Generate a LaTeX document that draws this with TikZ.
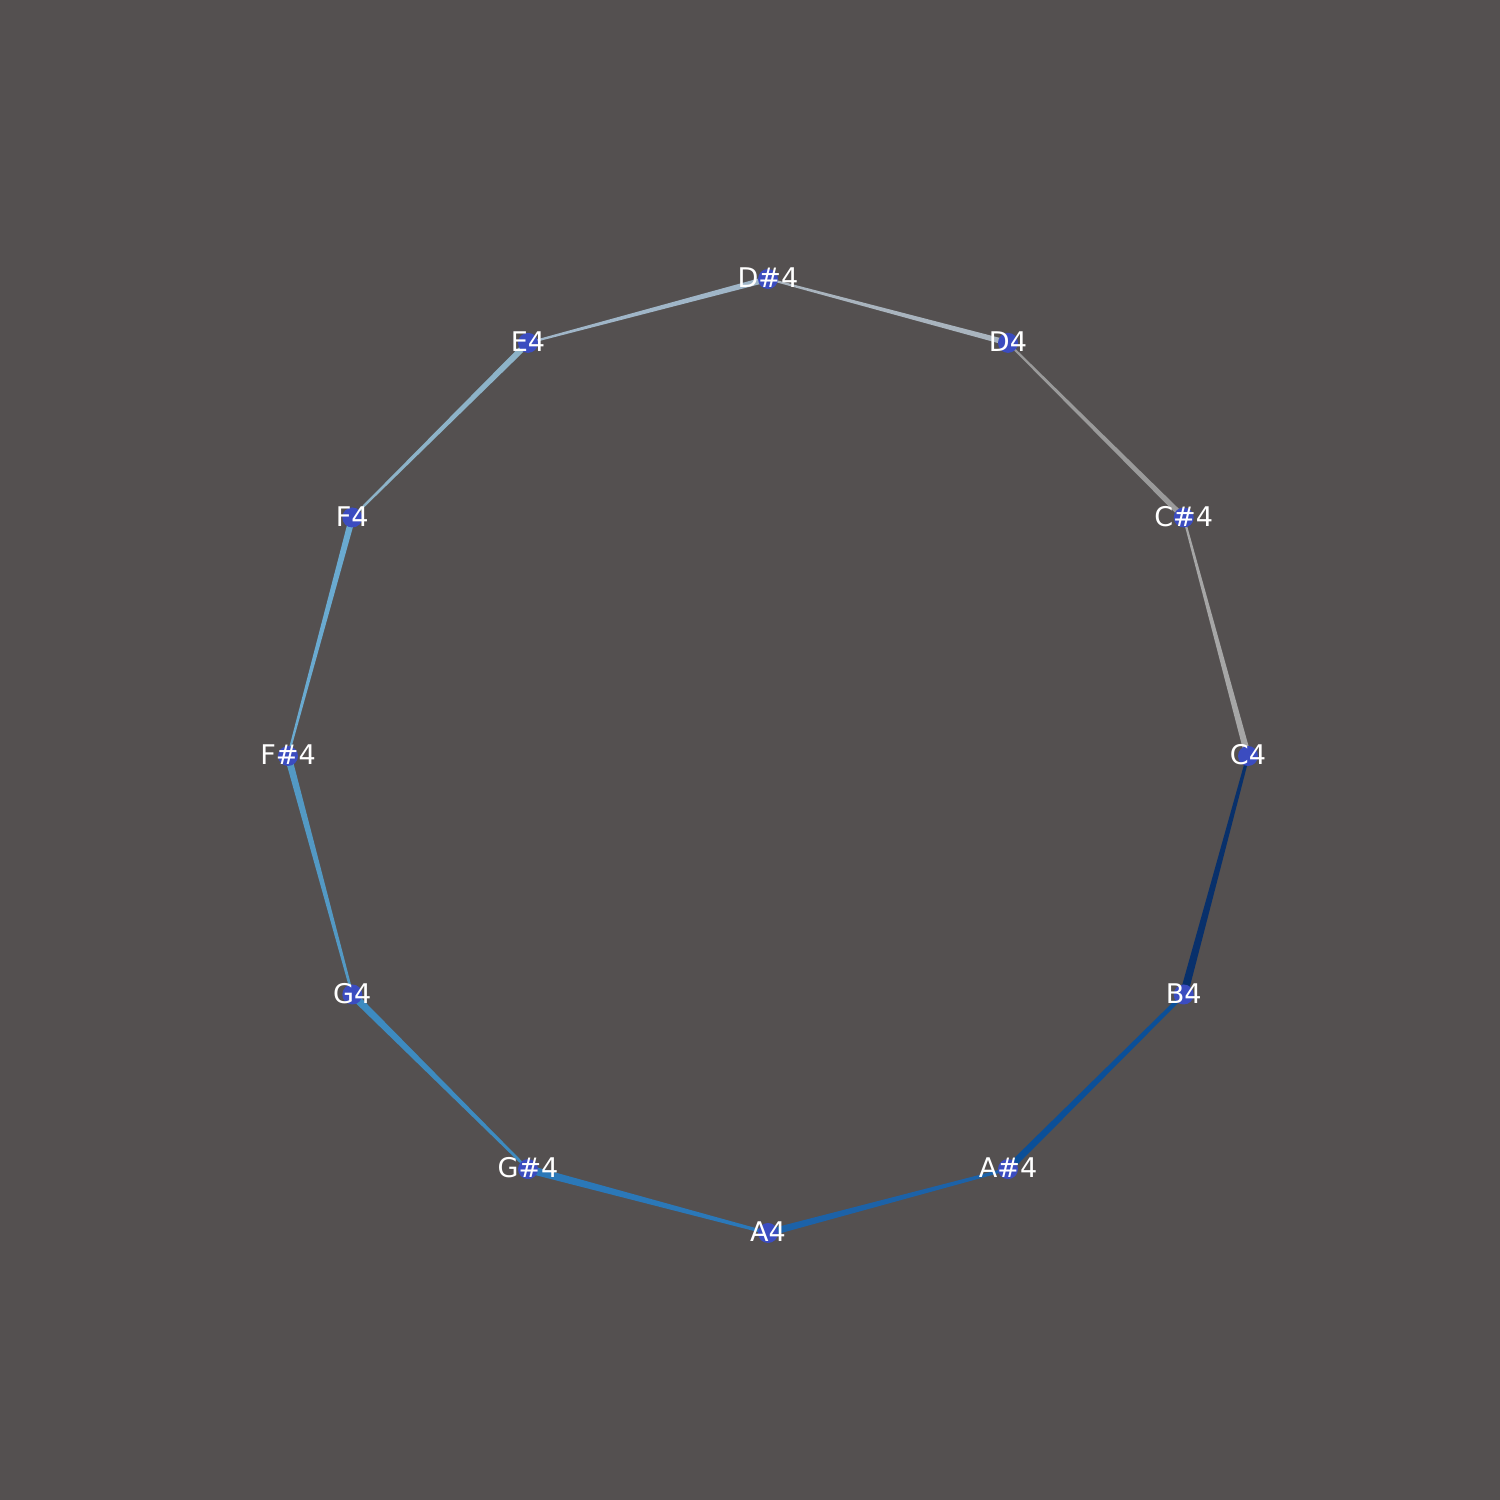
\documentclass[tikz,border=0pt]{standalone}
\usepackage{fontspec}
\setmainfont{DejaVu Sans}
\usetikzlibrary{calc}
\pgfdeclarelayer{background}
\pgfsetlayers{background,main}
\definecolor{bgc}{HTML}{545050}
\definecolor{nodec}{HTML}{3B4CC0}
\definecolor{eCCs}{HTML}{A6A6A6}
\definecolor{eCsD}{HTML}{9A9A9A}
\definecolor{eDDs}{HTML}{A9B4BE}
\definecolor{eDsE}{HTML}{A0B6C8}
\definecolor{eEF}{HTML}{8DB3C8}
\definecolor{eFFs}{HTML}{6AAAD0}
\definecolor{eFsG}{HTML}{5399C4}
\definecolor{eGGs}{HTML}{3D8BC0}
\definecolor{eGsA}{HTML}{2B78B8}
\definecolor{eAAs}{HTML}{1C62A8}
\definecolor{eAsB}{HTML}{0B4F98}
\definecolor{eBC}{HTML}{08306B}
\tikzset{
  note/.style={circle, fill=nodec, minimum size=0.2cm, inner sep=0pt},
  notelabel/.style={text=white, font=\fontsize{7.7pt}{8pt}\selectfont, inner sep=0pt},
}
\newcommand{\taperedge}[5]{%
  \fill[#5] ($(#1)!#3!90:(#2)$) -- ($(#2)!#4!-90:(#1)$) -- ($(#2)!#4!90:(#1)$) -- ($(#1)!#3!-90:(#2)$) -- cycle;}
\begin{document}
\begin{tikzpicture}[x=0.01cm,y=0.01cm]
\begin{pgfonlayer}{background}
\fill[bgc] (0,0) rectangle (1500,1500);
\end{pgfonlayer}
\useasboundingbox (0,0) rectangle (1500,1500);
\foreach \n/\t/\a in {C4/C4/0, Cs4/C\#4/30, D4/D4/60, Ds4/D\#4/90, E4/E4/120, F4/F4/150, Fs4/F\#4/180, G4/G4/210, Gs4/G\#4/240, A4/A4/270, As4/A\#4/300, B4/B4/330}{
  \node[note] (\n) at ($(768,744)+(\a:480 and 477)$) {};
  \node[notelabel] (l\n) at ($(\n.center)+(0,1)$) {\t};
}
\begin{pgfonlayer}{background}
\taperedge{C4.center}{Cs4.center}{0.032cm}{0.01cm}{eCCs}
\taperedge{Cs4.center}{D4.center}{0.028cm}{0.01cm}{eCsD}
\taperedge{D4.center}{Ds4.center}{0.028cm}{0.01cm}{eDDs}
\taperedge{Ds4.center}{E4.center}{0.03cm}{0.01cm}{eDsE}
\taperedge{E4.center}{F4.center}{0.032cm}{0.01cm}{eEF}
\taperedge{F4.center}{Fs4.center}{0.032cm}{0.01cm}{eFFs}
\taperedge{Fs4.center}{G4.center}{0.035cm}{0.012cm}{eFsG}
\taperedge{G4.center}{Gs4.center}{0.038cm}{0.012cm}{eGGs}
\taperedge{Gs4.center}{A4.center}{0.04cm}{0.015cm}{eGsA}
\taperedge{A4.center}{As4.center}{0.035cm}{0.015cm}{eAAs}
\taperedge{As4.center}{B4.center}{0.035cm}{0.02cm}{eAsB}
\taperedge{B4.center}{C4.center}{0.04cm}{0.015cm}{eBC}
\end{pgfonlayer}
\end{tikzpicture}
\end{document}
